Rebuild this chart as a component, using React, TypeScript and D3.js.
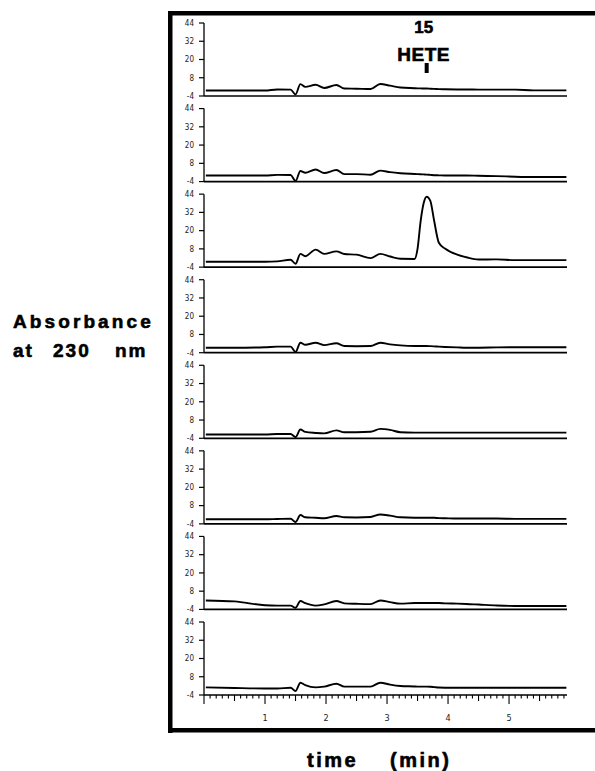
import React from "react";
import * as d3 from "d3";

const width = 595;
const height = 771;

// retention time grid (min), shared by all eight traces
const times = [
  0.03, 0.5, 1.0, 1.2, 1.42, 1.5, 1.58, 1.66, 1.83, 1.97, 2.17, 2.3, 2.5, 2.73,
  2.89, 3.05, 3.22, 3.45, 3.5, 3.55, 3.6, 3.65, 3.71, 3.77, 3.85, 3.95, 4.15,
  4.3, 4.5, 4.8, 5.1, 5.4, 5.94,
];

// absorbance at 230 nm, top panel to bottom panel
const trace1 = [-0.4, -0.4, -0.4, 0.3, 0.2, -3.0, 3.8, 2.0, 3.4, 1.3, 3.2, 0.9, 0.8, 0.6, 3.9, 2.8, 1.6, 1.1, 1.0, 1.0, 0.9, 0.9, 0.8, 0.7, 0.5, 0.4, 0.3, 0.3, 0.2, 0.2, 0.2, -0.3, -0.3];
const trace2 = [0.0, 0.0, 0.0, 0.4, 0.3, -3.6, 3.0, 1.8, 3.9, 1.6, 3.6, 0.9, 0.9, 0.5, 3.2, 2.2, 1.5, 1.0, 0.9, 0.8, 0.7, 0.6, 0.4, 0.2, 0.1, 0.0, 0.0, 0.0, -0.2, -0.4, -0.8, -1.0, -1.0];
const trace3 = [-0.5, -0.5, -0.5, -0.2, 0.9, -1.8, 4.7, 3.2, 7.5, 4.7, 6.4, 4.6, 4.2, 1.9, 4.7, 3.0, 1.5, 1.4, 8.0, 26.0, 38.0, 42.3, 39.5, 27.0, 12.0, 8.2, 4.2, 2.5, 1.0, 1.1, 0.6, 0.6, 0.6];
const trace4 = [-0.7, -0.7, -0.4, 0.0, 0.0, -3.5, 2.6, 1.2, 2.6, 1.0, 2.2, 0.4, 0.3, 0.4, 2.6, 1.5, 0.8, 0.4, 0.4, 0.4, 0.4, 0.4, 0.3, 0.2, 0.0, -0.2, -0.5, -0.7, -0.7, -0.5, -0.4, -0.4, -0.4];
const trace5 = [-1.5, -1.5, -1.5, -1.2, -1.2, -3.2, 1.8, 0.2, -0.5, -0.8, 1.2, 0.0, 0.0, 0.3, 2.2, 1.5, 0.0, -0.3, -0.3, -0.3, -0.3, -0.3, -0.3, -0.3, -0.3, -0.3, -0.3, -0.3, -0.3, -0.3, -0.3, -0.3, -0.3];
const trace6 = [-1.0, -1.0, -1.0, -0.8, -0.6, -2.8, 1.8, 0.3, 0.0, -0.3, 1.2, 0.3, 0.2, 0.5, 2.2, 1.4, 0.3, 0.0, 0.0, 0.0, 0.0, 0.0, 0.0, 0.0, -0.2, -0.3, -0.5, -0.5, -0.5, -0.5, -0.7, -0.7, -0.7];
const trace7 = [1.9, 1.3, -1.3, -1.5, -1.5, -2.9, 1.5, 0.1, -1.5, -0.7, 1.5, 0.0, -0.3, -0.5, 1.9, 0.8, -0.2, 0.2, 0.2, 0.2, 0.2, 0.2, 0.2, 0.2, 0.2, 0.0, -0.2, -0.4, -0.8, -1.4, -1.7, -1.7, -1.7];
const trace8 = [1.0, 0.6, 0.3, 0.3, 0.8, -1.4, 4.1, 2.5, 1.0, 1.5, 3.4, 1.5, 1.5, 1.5, 4.1, 2.8, 1.9, 1.6, 1.5, 1.5, 1.5, 1.5, 1.4, 1.2, 0.9, 0.8, 0.8, 0.8, 0.8, 0.8, 0.8, 0.8, 0.8];

const traces = [trace1, trace2, trace3, trace4, trace5, trace6, trace7, trace8];

const yTicks = [44, 32, 20, 8, -4];
const xLabels = [1, 2, 3, 4, 5];
const peakLabel = ["15", "HETE"];
const peakTime = 3.65;

const bold = "'Liberation Sans', Arial, sans-serif";
const small = "'DejaVu Sans Condensed', 'DejaVu Sans', sans-serif";

export default function App() {
  const x = d3.scaleLinear().domain([0, 5.95]).range([204, 567]);
  const bottoms = d3.scaleLinear().domain([0, 7]).range([96, 695]);
  const panelH = 73;
  const minor = d3.range(0, 60).map((d) => d / 10);
  // heavy lettering like the original typeset labels
  const heavy = { fontFamily: bold, fontWeight: "bold" as const, stroke: "#000", strokeWidth: 0.6 };

  return (
    <svg
      width={width}
      height={height}
      style={{ position: "absolute", left: 0, top: 0, background: "#fff" }}
    >
      {/* heavy frame */}
      <rect x={168} y={11} width={427} height={4.5} fill="#000" />
      <rect x={168} y={11} width={4.5} height={722} fill="#000" />
      <rect x={168} y={728} width={427} height={4.5} fill="#000" />

      {traces.map((vals, i) => {
        const b = bottoms(i);
        const y = d3.scaleLinear().domain([-4, 44]).range([b, b - panelH]);
        const line = d3
          .line<number>()
          .x((_, j) => x(times[j]))
          .y((d) => y(d))
          .curve(d3.curveMonotoneX);
        return (
          <g key={i}>
            <line x1={x(0)} x2={x(0)} y1={y(44)} y2={y(-4)} stroke="#000" strokeWidth={1.3} />
            {yTicks.map((t) => (
              <g key={t}>
                <line x1={x(0) - 5} x2={x(0)} y1={y(t)} y2={y(t)} stroke="#000" strokeWidth={1.2} />
                <text
                  x={x(0) - 10}
                  y={y(t)}
                  dy="0.35em"
                  textAnchor="end"
                  fontFamily={small}
                  fontSize={8}
                  fill="#222"
                >
                  {t}
                </text>
              </g>
            ))}
            <line x1={x(0)} x2={567} y1={y(-4)} y2={y(-4)} stroke="#000" strokeWidth={1.7} />
            <path d={line(vals) || ""} fill="none" stroke="#000" strokeWidth={1.9} strokeLinejoin="round" />
          </g>
        );
      })}

      {/* time axis on the bottom panel */}
      {minor.map((t) => {
        const r = Math.round(t * 10);
        const len = r % 10 === 0 ? 9 : r % 5 === 0 ? 6 : 3.5;
        return (
          <line
            key={r}
            x1={x(t)}
            x2={x(t)}
            y1={bottoms(7)}
            y2={bottoms(7) + len}
            stroke="#000"
            strokeWidth={1.1}
          />
        );
      })}
      {xLabels.map((t) => (
        <text
          key={t}
          x={x(t)}
          y={721}
          textAnchor="middle"
          fontFamily={small}
          fontSize={9}
          fill="#222"
        >
          {t}
        </text>
      ))}

      {/* peak annotation */}
      <text x={x(peakTime) - 3} y={33} textAnchor="middle" fontSize={17} {...heavy}>
        {peakLabel[0]}
      </text>
      <text x={x(peakTime) - 3} y={61} textAnchor="middle" fontSize={19} letterSpacing={0.5} {...heavy}>
        {peakLabel[1]}
      </text>
      <rect x={x(peakTime) - 2} y={63} width={4} height={10} fill="#000" />

      {/* axis titles */}
      <text x={13} y={328} fontSize={19} letterSpacing={3.1} {...heavy}>
        Absorbance
      </text>
      <text y={357} fontSize={19} letterSpacing={2} {...heavy}>
        <tspan x={13}>at</tspan>
        <tspan x={53}>230</tspan>
        <tspan x={115}>nm</tspan>
      </text>
      <text y={767} fontSize={20} letterSpacing={2.5} {...heavy}>
        <tspan x={307}>time</tspan>
        <tspan x={390}>(min)</tspan>
      </text>
    </svg>
  );
}
